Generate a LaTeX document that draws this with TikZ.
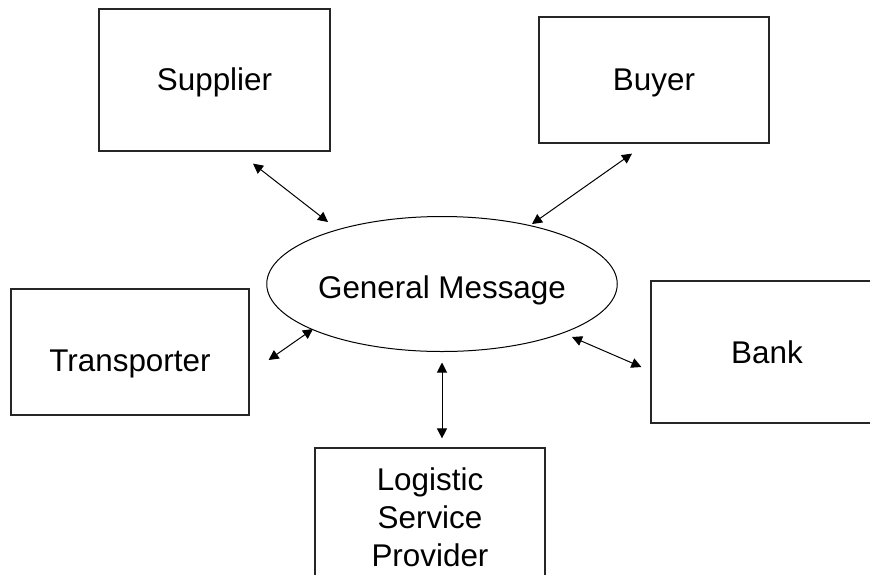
\documentclass[tikz,border=0pt]{standalone}
\usepackage{fontspec}
\setmainfont{Liberation Sans}
\usetikzlibrary{arrows.meta,shapes.geometric}
\newcommand{\lowerby}[2]{\raisebox{-#1}[\height][\depth]{#2}}
\begin{document}
\begin{tikzpicture}[x=1pt,y=-1pt,
  lbl/.style={font=\fontsize{31.4}{38}\selectfont},
  box/.style={draw=black!85,line width=1.2pt,rectangle,inner sep=0pt,lbl},
  bubble/.style={draw=black,ellipse,line width=1pt,inner sep=0pt,minimum width=287pt,minimum height=135pt,lbl},
  link/.style={line width=1pt,{Triangle[length=10pt,width=10pt]}-{Triangle[length=10pt,width=10pt]}}]
\useasboundingbox (0,0) rectangle (870,574);
\node[box,minimum width=231pt,minimum height=142pt] (sup) at (214.5,80) {\lowerby{2pt}{Supplier}};
\node[box,minimum width=230pt,minimum height=126pt] (buy) at (654,80) {\lowerby{2.5pt}{Buyer}};
\node[box,minimum width=238pt,minimum height=126pt] (tra) at (130,352) {\lowerby{12pt}{Transporter}};
\node[box,minimum width=232pt,minimum height=142pt] (bank) at (767,352) {Bank};
\node[box,minimum width=230pt,minimum height=139pt,align=center] (lsp) at (430,517.5) {Logistic\\Service\\Provider};
\node[bubble] (gm) at (442,284) {\lowerby{6pt}{General Message}};
\draw[link] ([shift={(38.5,12)}]sup.south) -- ([shift={(-114,-62)}]gm.center);
\draw[link] ([shift={(-22,10)}]buy.south) -- ([shift={(90,-60)}]gm.center);
\draw[link] ([shift={(19,8)}]tra.east) -- ([shift={(-129,45)}]gm.center);
\draw[link] ([shift={(130,53)}]gm.center) -- ([shift={(-9,15)}]bank.west);
\draw[link] ([shift={(0,10.5)}]gm.south) -- ([shift={(12,-9)}]lsp.north);
\end{tikzpicture}
\end{document}
